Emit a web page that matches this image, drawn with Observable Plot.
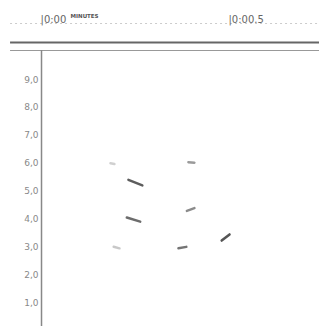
<!DOCTYPE html>
<html><head><meta charset="utf-8">
<script src="https://cdn.jsdelivr.net/npm/d3@7"></script>
<script src="https://cdn.jsdelivr.net/npm/@observablehq/plot@0.6"></script>
<style>body{margin:0;background:#fff}</style>
</head><body><div id="chart"></div>
<script>
// retention time (minutes) and spot value
const times = [0.186, 0.247, 0.396, 0.394, 0.242, 0.197, 0.372, 0.487];
const values = [6.0, 5.32, 6.04, 4.36, 4.0, 3.0, 3.0, 3.36];
const intensity = [0.15, 0.9, 0.5, 0.6, 0.8, 0.2, 0.75, 0.95];
const spotSize = [4, 15, 6, 8, 14, 6, 8, 10];
const spotTilt = [100, 112, 95, 70, 107, 105, 80, 52];
const yTicks = [1, 2, 3, 4, 5, 6, 7, 8, 9];
const timeTicks = [0, 0.5];
const timeLabels = ["|0:00", "|0:00.5"];
const unitLabel = "MINUTES";

const spots = times.map((t, i) => ({t, v: values[i], k: intensity[i], s: spotSize[i], r: spotTilt[i]}));
const topTicks = timeTicks.map((t, i) => ({t, label: timeLabels[i]}));
const xMin = -0.0027, xMax = 0.7367, xLeft = -0.085;
const yMin = 0.18, yMax = 10.04;
const line = {draw(context, l) { context.moveTo(0, 0); context.lineTo(0, -l); }};

const chart = Plot.plot({
  width: 319, height: 326,
  marginLeft: 41, marginRight: 0, marginTop: 50, marginBottom: 0,
  x: {domain: [xMin, xMax], axis: null},
  y: {domain: [yMin, yMax], axis: null},
  color: {type: "linear", domain: [0, 1], range: ["#e4e4e4", "#3a3a3a"]},
  length: {type: "identity"},
  style: {fontFamily: "DejaVu Sans", background: "#fff"},
  marks: [
    Plot.ruleY([yMax], {x1: xLeft, x2: xMax, stroke: "#ccc", strokeWidth: 1, strokeDasharray: "2,3", dy: -27}),
    Plot.ruleY([yMax], {x1: xLeft, x2: xMax, stroke: "#666", strokeWidth: 2, dy: -8}),
    Plot.ruleY([yMax], {x1: xLeft, x2: xMax, stroke: "#999", strokeWidth: 1}),
    Plot.ruleX([0], {stroke: "#888", strokeWidth: 1.5, dx: -1}),
    Plot.axisY(yTicks, {tickSize: 0, tickPadding: 3, tickFormat: d => d.toFixed(1).replace(".", ","),
      fill: "#888", fontSize: 9, label: null}),
    Plot.text(topTicks, {x: "t", text: "label", frameAnchor: "top", dy: -35, dx: -2, textAnchor: "start",
      fill: "#666", fontSize: 10}),
    Plot.text([unitLabel], {x: timeTicks[0], frameAnchor: "top", text: d => d, dy: -36, dx: 28,
      textAnchor: "start", fill: "#555", fontSize: 5.5, fontWeight: "bold"}),
    Plot.vector(spots, {x: "t", y: "v", length: "s", rotate: "r", anchor: "middle", shape: line,
      stroke: "k", strokeWidth: 2.5, strokeLinecap: "round", strokeOpacity: 0.9})
  ]
});
document.getElementById("chart").append(chart);
</script></body></html>
